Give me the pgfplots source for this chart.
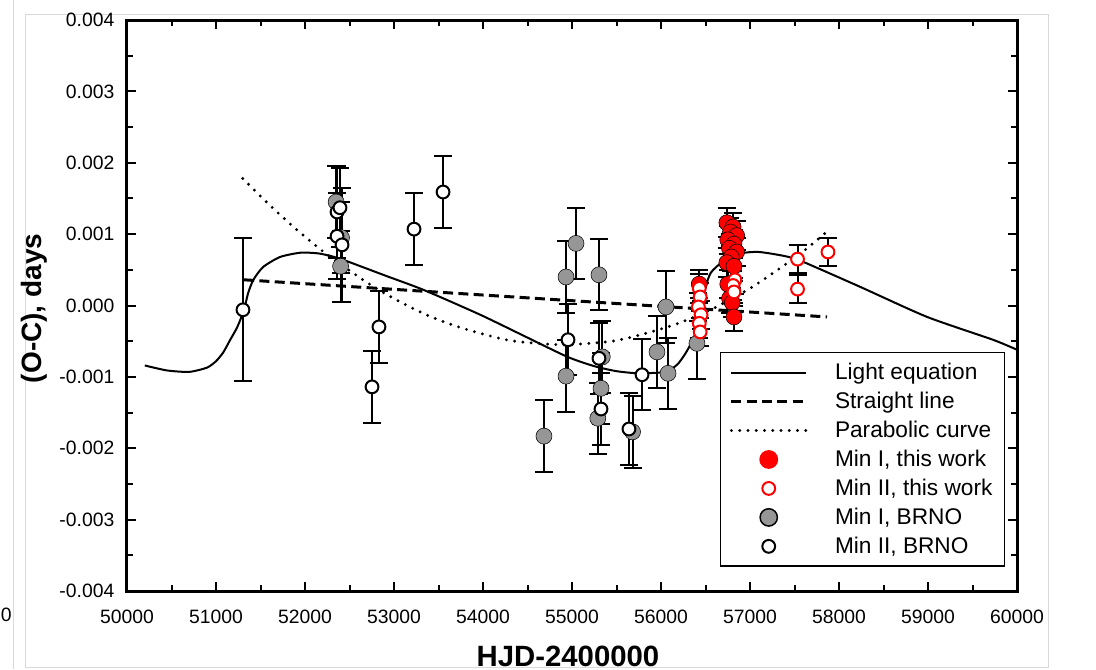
\documentclass[border=0pt]{standalone}
\usepackage{fontspec}
\setmainfont{Liberation Sans}
\usepackage{pgfplots}
\pgfplotsset{compat=1.18}
\definecolor{brnogray}{RGB}{150,150,150}
\definecolor{myred}{RGB}{255,0,0}
\pgfplotsset{
  markleg/.style={legend image code/.code={\draw[mark repeat=2,mark phase=2,##1] plot coordinates {(0pt,0pt)(28pt,0pt)(56pt,0pt)};}},
  lineleg/.style={legend image code/.code={\draw[##1] (0pt,0pt) -- (56pt,0pt);}},
}
\begin{document}
\begin{tikzpicture}
\path[use as bounding box] (0pt,0pt) rectangle (822pt,501.75pt);
\draw[black!15, line width=0.75pt] (18.75pt,1.5pt) rectangle (786pt,490.5pt);
\draw[black!15, line width=0.75pt] (9.75pt,0pt) -- (9.75pt,501.75pt);
\node[anchor=east, font=\fontsize{14.5}{17}\selectfont, inner sep=0pt] at (9pt,40.5pt) {60000};
\begin{axis}[
  at={(95.25pt,58.5pt)}, anchor=south west,
  scale only axis, width=667.5pt, height=428.25pt,
  xmin=50000, xmax=60000, ymin=-0.004, ymax=0.004,
  xtick={50000,51000,...,60000},
  ytick={-0.004,-0.003,-0.002,-0.001,0,0.001,0.002,0.003,0.004},
  minor x tick num=1, minor y tick num=1,
  tick align=inside,
  axis line style={line width=2.25pt},
  every tick/.style={black, line width=1.5pt},
  major tick length=6.75pt, minor tick length=4.2pt,
  scaled y ticks=false, scaled x ticks=false,
  /pgf/number format/assume math mode=true,
  every tick label/.append style={font=\fontsize{14.5}{17}\selectfont},
  yticklabel style={/pgf/number format/fixed, /pgf/number format/fixed zerofill, /pgf/number format/precision=3, xshift=-6pt},
  xticklabel style={/pgf/number format/1000 sep={}, yshift=-10.5pt},
  xlabel={\bfseries HJD-2400000},
  xlabel style={font=\fontsize{22}{26}\selectfont, at={(axis description cs:0.4955,-0.133)}, anchor=base},
  ylabel={\bfseries (O-C), days},
  ylabel style={font=\fontsize{21}{25}\selectfont, at={(axis description cs:-0.104,0.495)}, anchor=center},
  legend style={at={(axis description cs:0.666,0.4186)}, anchor=north west,
    draw=black, line width=1.1pt, fill=white,
    font=\fontsize{17}{20}\selectfont, inner xsep=7pt, inner ysep=6pt, row sep=3.9pt,
    /tikz/every odd column/.append style={column sep=18.5pt}},
  legend cell align=left,
  lineleg,
  clip=false,
]
% legend
\addlegendimage{black, line width=1.5pt}
\addlegendentry{Light equation}
\addlegendimage{black, line width=2.25pt, dash pattern=on 7.5pt off 4pt}
\addlegendentry{Straight line}
\addlegendimage{black, line width=2.4pt, line cap=round, dash pattern=on 0pt off 6.2pt}
\addlegendentry{Parabolic curve}
\addlegendimage{only marks, mark=*, mark size=6.5pt, myred, mark options={draw=none, fill=myred}, markleg}
\addlegendentry{Min I, this work}
\addlegendimage{only marks, mark=*, mark size=4.8pt, mark options={draw=myred, fill=white, line width=1.5pt}, markleg}
\addlegendentry{Min II, this work}
\addlegendimage{only marks, mark=*, mark size=6.5pt, mark options={draw=none, fill=brnogray}, markleg}
\addlegendentry{Min I, BRNO}
\addlegendimage{only marks, mark=*, mark size=4.8pt, mark options={draw=black, fill=white, line width=1.5pt}, markleg}
\addlegendentry{Min II, BRNO}

% light equation
\addplot[black, line width=1.5pt, smooth, tension=0.4, forget plot] coordinates {
(50200,-0.00084) (50450,-0.00091) (50700,-0.00093) (50900,-0.00087) (51000,-0.00078)
(51080,-0.00066) (51160,-0.00048) (51240,-0.00030) (51315,-0.00006) (51360,0.00017)
(51420,0.00036) (51530,0.00054) (51720,0.00068) (51950,0.00074) (52150,0.00073)
(52300,0.00069) (52430,0.00064) (52900,0.00042) (53330,0.00022) (53970,-0.00013)
(54500,-0.00045) (54950,-0.00072) (55250,-0.00085) (55500,-0.00092) (55750,-0.00095)
(56050,-0.00093) (56180,-0.00083) (56260,-0.00070) (56330,-0.00055) (56400,-0.00035)
(56450,-0.00005) (56500,0.00025) (56560,0.00046) (56700,0.00062) (56900,0.00073)
(57100,0.00075) (57400,0.00069) (57600,0.00061) (58240,0.00026) (58990,-0.00016)
(59730,-0.00048) (60000,-0.00062)
};
% straight line
\addplot[black, line width=2.25pt, dash pattern=on 7.5pt off 4pt, forget plot] coordinates {
(51316,0.00036) (57865,-0.00016)
};
% parabolic curve
\addplot[black, line width=2.4pt, line cap=round, dash pattern=on 0pt off 6.2pt, smooth, forget plot] coordinates {
(51300,0.00178) (51600,0.00141) (51900,0.00107) (52200,0.00076) (52500,0.00049)
(52800,0.00024) (53100,0.00003) (53400,-0.00015) (53700,-0.00029) (54000,-0.00040)
(54300,-0.00049) (54600,-0.00053) (54900,-0.00055) (55200,-0.00053) (55500,-0.00049)
(55800,-0.00040) (56100,-0.00029) (56400,-0.00015) (56700,0.00003) (57000,0.00024)
(57300,0.00049) (57600,0.00076) (57850,0.00102)
};

% Min I, BRNO
\addplot[only marks, mark=*, mark size=6pt, mark options={draw=none, fill=brnogray}, forget plot,
  error bars/.cd, y dir=both, y explicit,
  error bar style={black, line width=1.5pt},
  error mark options={rotate=90, mark size=6.75pt, line width=1.5pt, black}]
coordinates {
(52350,0.00145) +- (0,0.0005)
(52400,0.00055) +- (0,0.0005)
(52410,0.00095) +- (0,0.0005)
(54685,-0.00183) +- (0,0.0005)
(54933,0.00040) +- (0,0.0005)
(54933,-0.00099) +- (0,0.0005)
(55045,0.00087) +- (0,0.0005)
(55303,0.00043) +- (0,0.0005)
(55340,-0.00072) +- (0,0.0005)
(55326,-0.00116) +- (0,0.0005)
(55290,-0.00158) +- (0,0.0005)
(55680,-0.00177) +- (0,0.0005)
(55955,-0.00065) +- (0,0.0005)
(56056,-0.00002) +- (0,0.0005)
(56079,-0.00095) +- (0,0.0005)
(56404,-0.00053) +- (0,0.0005)
};
% Min II, BRNO
\addplot[only marks, mark=*, mark size=4.8pt, mark options={draw=black, fill=white, line width=1.5pt}, forget plot,
  error bars/.cd, y dir=both, y explicit,
  error bar style={black, line width=1.5pt},
  error mark options={rotate=90, mark size=6.75pt, line width=1.5pt, black}]
coordinates {
(51303,-0.00006) +- (0,0.0010)
(52360,0.00131) +- (0,0.00065)
(52393,0.00137) +- (0,0.00055)
(52360,0.00097) +- (0,0.0006)
(52416,0.00085) +- (0,0.0008)
(52753,-0.00114) +- (0,0.0005)
(52831,-0.00030) +- (0,0.0005)
(53225,0.00107) +- (0,0.0005)
(53551,0.00159) +- (0,0.0005)
(54955,-0.00048) +- (0,0.0005)
(55303,-0.00074) +- (0,0.0005)
(55326,-0.00145) +- (0,0.0005)
(55640,-0.00173) +- (0,0.0005)
(55787,-0.00097) +- (0,0.0005)
};
% Min I, this work
\addplot[only marks, mark=*, mark size=6pt, mark options={draw=none, fill=myred}, forget plot,
  error bars/.cd, y dir=both, y explicit,
  error bar style={black, line width=1.5pt},
  error mark options={rotate=90, mark size=6.75pt, line width=1.5pt, black}]
coordinates {
(56430,0.00030) +- (0,0.0002)
(56740,0.00116) +- (0,0.0002)
(56810,0.00110) +- (0,0.0002)
(56780,0.00103) +- (0,0.0002)
(56850,0.00098) +- (0,0.0002)
(56750,0.00092) +- (0,0.0002)
(56820,0.00086) +- (0,0.0002)
(56770,0.00080) +- (0,0.0002)
(56850,0.00075) +- (0,0.0002)
(56790,0.00068) +- (0,0.0002)
(56740,0.00060) +- (0,0.0002)
(56820,0.00055) +- (0,0.0002)
(56750,0.00030) +- (0,0.0002)
(56770,0.00010) +- (0,0.0002)
(56800,0.00004) +- (0,0.0002)
(56820,-0.00016) +- (0,0.0002)
};
% Min II, this work
\addplot[only marks, mark=*, mark size=4.8pt, mark options={draw=myred, fill=white, line width=1.5pt}, forget plot,
  error bars/.cd, y dir=both, y explicit,
  error bar style={black, line width=1.5pt},
  error mark options={rotate=90, mark size=6.75pt, line width=1.5pt, black}]
coordinates {
(56430,0.00024) +- (0,0.0002)
(56440,0.00012) +- (0,0.0002)
(56420,-0.00002) +- (0,0.0002)
(56450,-0.00013) +- (0,0.0002)
(56430,-0.00025) +- (0,0.0002)
(56440,-0.00037) +- (0,0.0002)
(56830,0.00036) +- (0,0.0002)
(56810,0.00028) +- (0,0.0002)
(56820,0.00019) +- (0,0.0002)
(57534,0.00065) +- (0,0.0002)
(57534,0.00023) +- (0,0.0002)
(57876,0.00075) +- (0,0.0002)
};
\end{axis}
\end{tikzpicture}
\end{document}
